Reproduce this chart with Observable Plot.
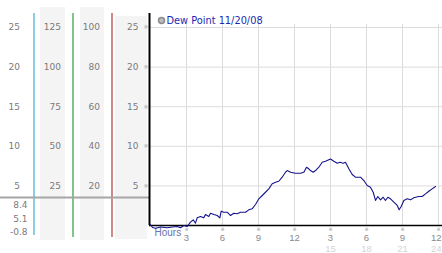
<!DOCTYPE html>
<html>
<head>
<meta charset="utf-8">
<script src="https://cdn.jsdelivr.net/npm/d3@7"></script>
<script src="https://cdn.jsdelivr.net/npm/@observablehq/plot@0.6"></script>
<style>
  html, body { margin: 0; padding: 0; background: #fff; }
  #wrap { display: flex; flex-direction: row; width: 442px; height: 253px; overflow: hidden; }
  svg { overflow: visible; }
</style>
</head>
<body>
<div id="wrap"></div>
<script>
// ---- data ----
const hours = [0,0.17,0.42,0.83,1.39,1.83,2.22,2.5,2.78,3.06,3.33,3.56,3.75,3.89,4.17,4.44,4.58,4.86,5.0,5.28,5.56,5.78,5.89,6.11,6.39,6.67,6.94,7.22,7.5,7.92,8.19,8.47,8.75,9.03,9.31,9.58,9.86,10.14,10.42,10.69,10.97,11.25,11.39,11.67,12.08,12.5,12.78,13.0,13.19,13.33,13.56,13.75,14.03,14.31,14.58,15.0,15.28,15.56,15.78,16.06,16.25,16.53,16.81,17.08,17.5,17.78,18.06,18.33,18.56,18.75,18.94,19.17,19.39,19.58,19.78,20.0,20.28,20.56,20.72,20.89,21.11,21.39,21.67,21.94,22.36,22.64,22.92,23.19,23.47,23.75];
const dewPoint = [0.09,-0.25,-0.34,-0.19,-0.29,-0.19,-0.13,-0.29,0,-0.13,0.42,0.72,0.29,0.97,1.14,0.97,1.39,1.14,1.55,1.39,1.26,0.97,1.81,1.68,1.68,1.26,1.55,1.48,1.68,1.68,1.98,2.11,2.65,3.37,3.79,4.2,4.63,5.27,5.47,5.59,6.1,6.73,6.94,6.73,6.6,6.6,6.73,7.36,7.16,6.94,6.73,6.94,7.36,7.99,8.12,8.4,8.12,7.87,7.99,7.87,7.99,7.16,6.44,6.1,6.1,5.68,5.05,4.84,4.2,3.16,3.66,3.24,3.57,3.16,3.57,3.37,2.94,2.53,1.98,2.4,3.16,3.37,3.24,3.5,3.66,3.66,4.0,4.33,4.63,4.92];
const yTicks = [5, 10, 15, 20, 25];
const scale2Labels = ["25", "50", "75", "100", "125"];
const scale3Labels = ["20", "40", "60", "80", "100"];
const statLabels = ["8.4", "5.1", "-0.8"];
const xTicks = [3, 6, 9, 12, 15, 18, 21, 24];
const hourTickLabels = ["3", "6", "9", "12", "3", "6", "9", "12"];
const xTicks24 = [15, 18, 21, 24];
const hour24Labels = ["15", "18", "21", "24"];
const seriesLabel = "Dew Point 11/20/08";
const axisLabel = "Hours";

// ---- layout / style ----
const yDomain = [0, 26.77];
const sepValue = 3.54;
const base = {
  height: 253, marginTop: 13, marginBottom: 28,
  y: {domain: yDomain, axis: null},
  style: {fontFamily: "DejaVu Sans, Verdana, sans-serif", fontSize: "9px", background: "transparent"}
};
const gray = "#7a7a7a";
const bg = "#f4f4f4";
const tickFont = {fontFamily: "Liberation Sans, Arial, sans-serif", fontSize: 9.5};
const lastIdx = xTicks.length - 1;
const lastIdx24 = xTicks24.length - 1;

// left panel with parallel scales
const left = Plot.plot({
  ...base,
  width: 149, marginLeft: 0, marginRight: 0,
  x: {domain: [0, 149], axis: null},
  marks: [
    Plot.rect([0], {x1: 40, x2: 65, insetTop: -6, insetBottom: -15, fill: bg}),
    Plot.rect([0], {x1: 80, x2: 104, insetTop: -6, insetBottom: -15, fill: bg}),
    Plot.rect([0], {x1: 115, x2: 147, insetTop: 3, insetBottom: -14, fill: bg}),
    Plot.ruleX([33.5], {stroke: "#3eaed0", strokeWidth: 1.2, insetBottom: -10}),
    Plot.ruleX([72.5], {stroke: "#2f9c37", strokeWidth: 1.2, insetBottom: -12}),
    Plot.ruleX([111.5], {stroke: "#b03838", strokeWidth: 1.2, insetBottom: -12}),
    Plot.ruleY([sepValue], {stroke: "#a6a6a6", strokeWidth: 2}),
    Plot.text(yTicks, {x: 19.5, y: d => d, text: d => String(d), textAnchor: "end", fill: gray}),
    Plot.text(scale2Labels, {x: 60.5, y: (d, i) => yTicks[i], text: d => d, textAnchor: "end", fill: gray}),
    Plot.text(scale3Labels, {x: 99.5, y: (d, i) => yTicks[i], text: d => d, textAnchor: "end", fill: gray}),
    Plot.text(yTicks, {x: 138, y: d => d, text: d => String(d), textAnchor: "end", fill: gray}),
    Plot.text(yTicks, {x: 145.5, y: d => d, text: () => "※", fontSize: 6, fill: "#aaa"}),
    ...statLabels.map((s, i) => Plot.text([s], {frameAnchor: "bottom-left", dx: 27, dy: -20 + i * 13.5, text: d => d, textAnchor: "end", lineAnchor: "middle", fill: gray}))
  ]
});

// main chart
const main = Plot.plot({
  ...base,
  width: 293, marginLeft: 1, marginRight: 4,
  x: {domain: [0, 24], axis: null},
  marks: [
    Plot.ruleY(yTicks, {stroke: "#dcdcdc", insetLeft: -1, insetRight: -4}),
    Plot.ruleX(xTicks, {stroke: "#dcdcdc", insetTop: 11}),
    Plot.ruleY([0], {stroke: "#000", strokeWidth: 1.5, insetLeft: -1, insetRight: -4}),
    Plot.ruleX([0], {stroke: "#000", strokeWidth: 2, dx: -1}),
    Plot.text(xTicks, {x: d => d, frameAnchor: "bottom", dy: 3.5, text: () => "※", fontSize: 5, fill: "#999", lineAnchor: "middle"}),
    Plot.text(hourTickLabels.slice(0, lastIdx), {x: (d, i) => xTicks[i], frameAnchor: "bottom", dy: 12, text: d => d, lineAnchor: "middle", ...tickFont, fill: "#888"}),
    Plot.text(hourTickLabels.slice(lastIdx), {x: () => xTicks[lastIdx], frameAnchor: "bottom", dy: 12, dx: 3, text: d => d, textAnchor: "end", lineAnchor: "middle", ...tickFont, fill: "#888"}),
    Plot.text(hour24Labels.slice(0, lastIdx24), {x: (d, i) => xTicks24[i], frameAnchor: "bottom", dy: 23, text: d => d, lineAnchor: "middle", ...tickFont, fill: "#d4d4d4"}),
    Plot.text(hour24Labels.slice(lastIdx24), {x: () => xTicks24[lastIdx24], frameAnchor: "bottom", dy: 23, dx: 3, text: d => d, textAnchor: "end", lineAnchor: "middle", ...tickFont, fill: "#d4d4d4"}),
    Plot.text([axisLabel], {frameAnchor: "bottom-left", dx: 4, dy: 7, text: d => d, textAnchor: "start", lineAnchor: "middle",
      fontFamily: "Liberation Sans, Arial, sans-serif", fontSize: 10, fill: "#6a74a8"}),
    Plot.line(hours.map((h, i) => ({h, v: dewPoint[i]})), {x: "h", y: "v", stroke: "#14148c", strokeWidth: 1.1}),
    Plot.dot([0], {frameAnchor: "top-left", dx: 11, dy: 7, r: 3, fill: "#bdbdbd", stroke: "#8a8a8a"}),
    Plot.text([seriesLabel], {frameAnchor: "top-left", dx: 16, dy: 7, text: d => d, textAnchor: "start", lineAnchor: "middle",
      fill: "#1a2ab0", fontSize: 9.8})
  ]
});

const wrap = document.getElementById("wrap");
wrap.appendChild(left);
wrap.appendChild(main);
</script>
</body>
</html>
